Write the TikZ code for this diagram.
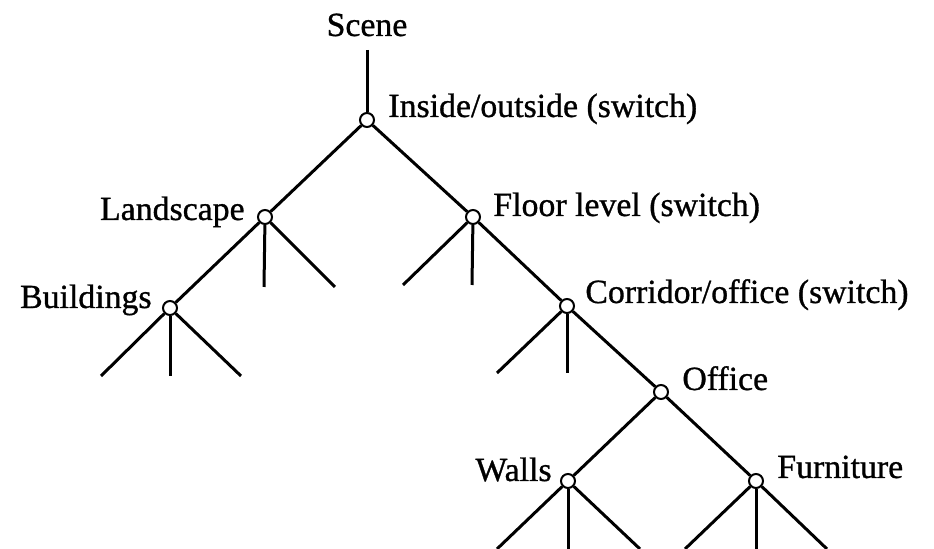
\documentclass[tikz,border=0pt]{standalone}
\usepackage{fontspec}
\setmainfont{Liberation Serif}
% slightly heavier serif for the labels, same widths as the regular face
\newfontfamily\labelface{Liberation Serif}[BoldFont=Liberation Serif, BoldFeatures={FakeBold=0.9}]
\begin{document}
\begin{tikzpicture}[x=0.5pt,y=-0.5pt,
  joint/.style={circle,draw,fill=white,line width=1pt,inner sep=0pt,minimum size=7pt},
  branch/.style={line width=1.5pt},
  lbl/.style={font=\fontsize{16.9}{20}\labelface\bfseries,inner sep=0pt}]
\useasboundingbox (0,0) rectangle (934,549);

% joints of the scene graph
\node[joint] (root)   at (367,120) {};
\node[joint] (land)   at (265,217) {};
\node[joint] (floor)  at (473,217) {};
\node[joint] (build)  at (170,308) {};
\node[joint] (corr)   at (567,306) {};
\node[joint] (office) at (661,392) {};
\node[joint] (walls)  at (568,481) {};
\node[joint] (furn)   at (756,481) {};

% free ends of the open branches
\coordinate (top) at (367,50);
\coordinate (l1) at (264,287);
\coordinate (l2) at (335,287);
\coordinate (f1) at (403,285);
\coordinate (f2) at (472,285);
\coordinate (b1) at (101,376);
\coordinate (b2) at (170,376);
\coordinate (b3) at (241,376);
\coordinate (c1) at (497,373);
\coordinate (c2) at (567,373);
\coordinate (w1) at (497,549);
\coordinate (w2) at (568,549);
\coordinate (w3) at (640,549);
\coordinate (u1) at (685,549);
\coordinate (u2) at (756,549);
\coordinate (u3) at (827,549);

% branches
\draw[branch] (top) -- (root);
\draw[branch] (root) -- (land);
\draw[branch] (root) -- (floor);
\draw[branch] (land) -- (build);
\draw[branch] (land) -- (l1);
\draw[branch] (land) -- (l2);
\draw[branch] (floor) -- (f1);
\draw[branch] (floor) -- (f2);
\draw[branch] (floor) -- (corr);
\draw[branch] (build) -- (b1);
\draw[branch] (build) -- (b2);
\draw[branch] (build) -- (b3);
\draw[branch] (corr) -- (c1);
\draw[branch] (corr) -- (c2);
\draw[branch] (corr) -- (office);
\draw[branch] (office) -- (walls);
\draw[branch] (office) -- (furn);
\draw[branch] (walls) -- (w1);
\draw[branch] (walls) -- (w2);
\draw[branch] (walls) -- (w3);
\draw[branch] (furn) -- (u1);
\draw[branch] (furn) -- (u2);
\draw[branch] (furn) -- (u3);

% labels
\node[lbl,anchor=base]      (tscene) at (367,36)  {Scene};
\node[lbl,anchor=base west] (tio)    at (388,117) {Inside/outside (switch)};
\node[lbl,anchor=base east] (tland)  at (245,220) {Landscape};
\node[lbl,anchor=base west] (tfloor) at (493,216) {Floor level (switch)};
\node[lbl,anchor=base east] (tbuild) at (152,308) {Buildings};
\node[lbl,anchor=base west] (tcorr)  at (585,303) {Corridor/office (switch)};
\node[lbl,anchor=base west] (toff)   at (682,390) {Office};
\node[lbl,anchor=base east] (twall)  at (552,481) {Walls};
\node[lbl,anchor=base west] (tfurn)  at (777,478) {Furniture};
\end{tikzpicture}
\end{document}
